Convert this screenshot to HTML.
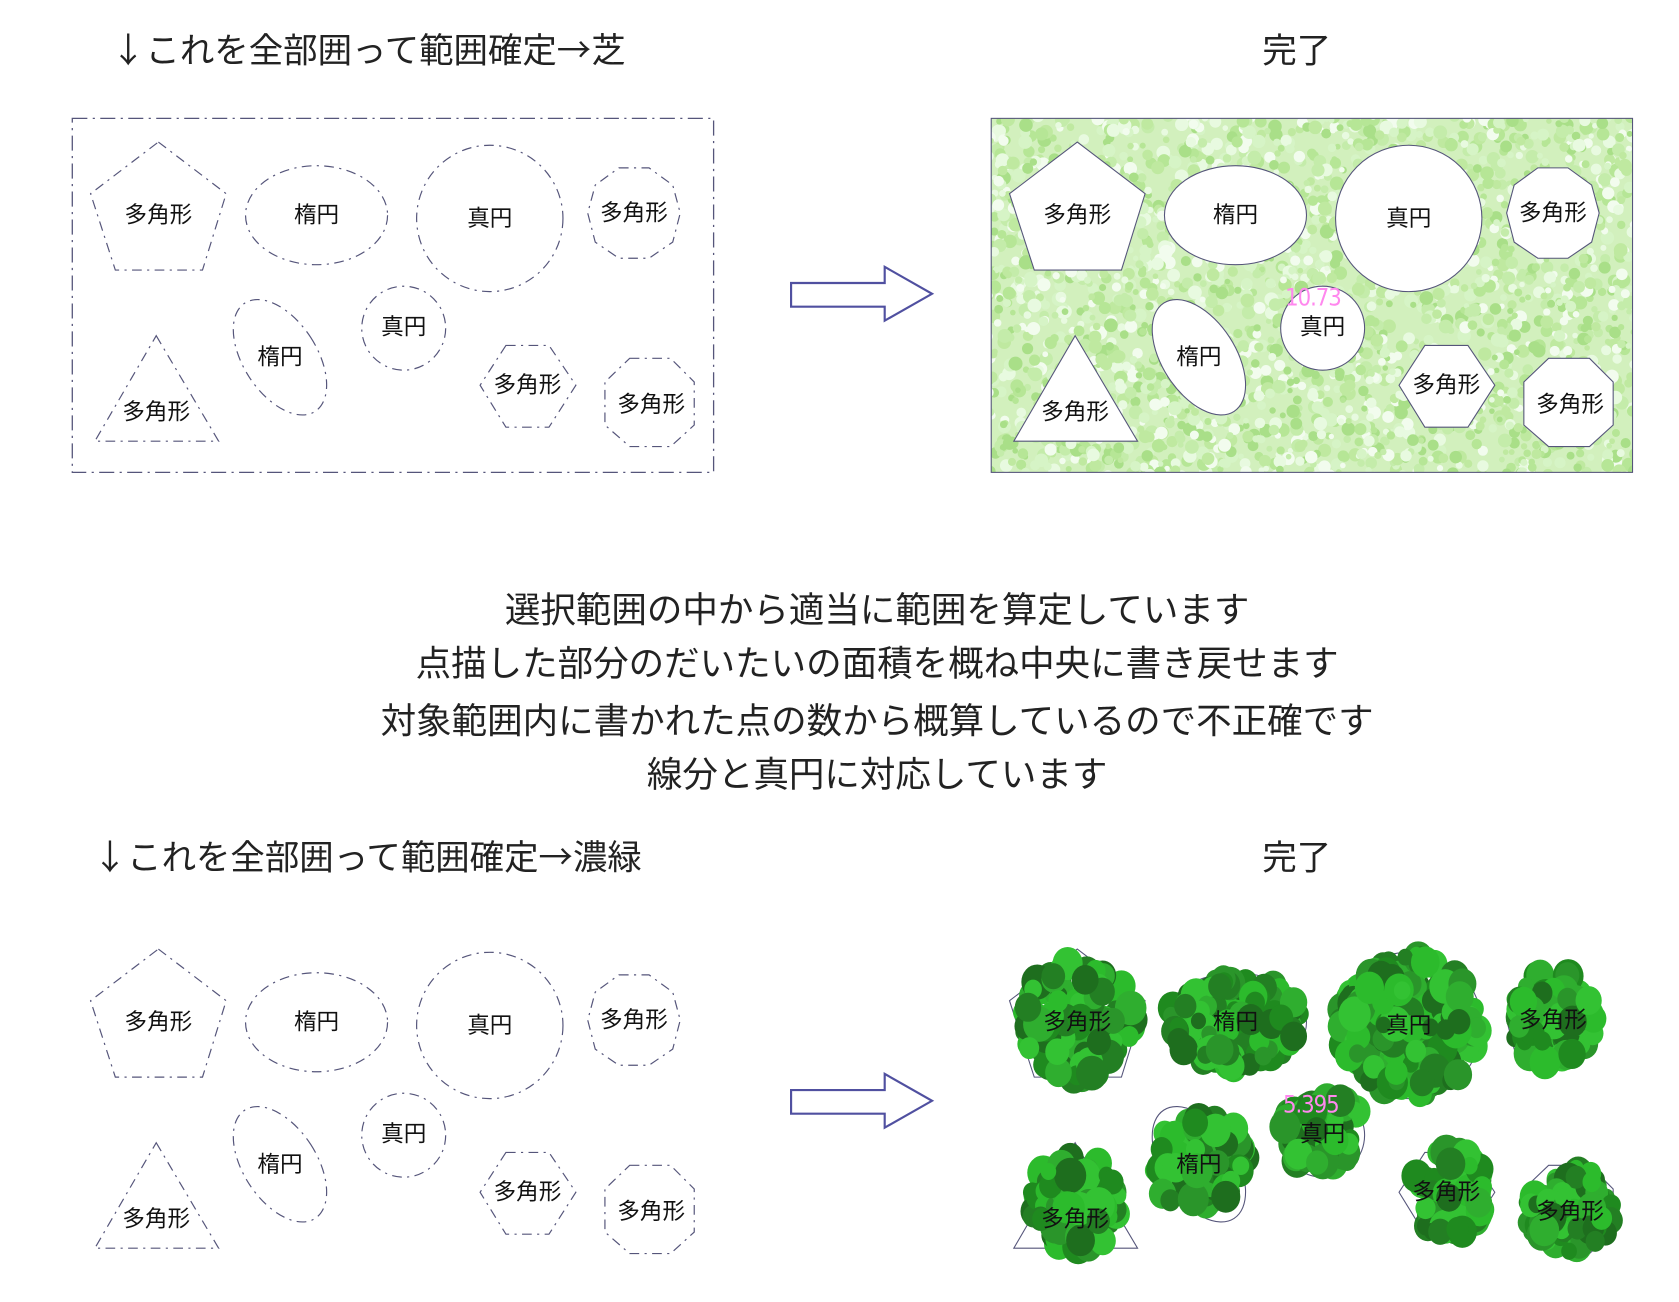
<!DOCTYPE html>
<html><head><meta charset="utf-8"><style>
html,body{margin:0;padding:0;background:#fff;}
svg{display:block;}
text{font-family:"Liberation Sans","Noto Sans CJK JP",sans-serif;}
.lbl{font-size:21px;fill:#111;text-anchor:middle;dominant-baseline:central;}
.ttl{font-size:32px;fill:#222;}
.ar{font-family:"Noto Sans CJK JP",sans-serif;}
.mid{font-size:33px;fill:#222;text-anchor:middle;}
</style></head><body>
<svg id="s" width="1679" height="1302" viewBox="0 0 1560 1210" xmlns="http://www.w3.org/2000/svg">
<defs>
<clipPath id="lawnclip"><rect x="921" y="110" width="596" height="329"/></clipPath>
</defs>
<text class="ttl" x="103" y="58"><tspan class="ar">↓</tspan>これを全部囲って範囲確定<tspan class="ar">→</tspan>芝</text>
<text class="ttl" x="1173" y="58">完了</text>
<text class="ttl" x="86" y="808"><tspan class="ar">↓</tspan>これを全部囲って範囲確定<tspan class="ar">→</tspan>濃緑</text>
<text class="ttl" x="1173" y="808">完了</text>

<text class="mid" x="815" y="578">選択範囲の中から適当に範囲を算定しています</text>
<text class="mid" x="815" y="628">点描した部分のだいたいの面積を概ね中央に書き戻せます</text>
<text class="mid" x="815" y="681">対象範囲内に書かれた点の数から概算しているので不正確です</text>
<text class="mid" x="815" y="731">線分と真円に対応しています</text>

<path d="M735,263 H822 V248 L866,273 L822,298 V285 H735 Z" fill="#fff" stroke="#5050a0" stroke-width="2"/>
<path d="M735,1013 H822 V998 L866,1023 L822,1048 V1035 H735 Z" fill="#fff" stroke="#5050a0" stroke-width="2"/>

<rect x="67" y="110" width="596" height="329" fill="none" stroke="#55557a" stroke-width="1.2" stroke-dasharray="14,5,2,5"/>

<rect x="921" y="110" width="596" height="329" fill="#d2f0bd"/>
<g id="lawn" clip-path="url(#lawnclip)"></g>
<rect x="921" y="110" width="596" height="329" fill="none" stroke="#55557a" stroke-width="1"/>

<g fill="none" stroke="#55557a" stroke-width="1.1" stroke-dasharray="9,5,2,5">
<polygon points="147,132 210,180 188,251 107,251 84,180"/>
<ellipse cx="294" cy="200" rx="66" ry="46"/>
<ellipse cx="455" cy="203" rx="68" ry="68"/>
<polygon points="575,156 603,156 625,172 632,198 625,225 603,240 575,240 553,225 546,198 553,172"/>
<ellipse cx="260" cy="332" rx="34" ry="60" transform="rotate(-33 260 332)"/>
<ellipse cx="375" cy="305" rx="39" ry="39"/>
<polygon points="145,312 203,410 88,410"/>
<polygon points="470,321 510,321 535,358 510,397 470,397 446,358"/>
<polygon points="585,333 623,333 645,355 645,395 623,415 585,415 562,395 562,355"/>
</g>
<g>
<text class="lbl" x="147" y="200">多角形</text><text class="lbl" x="294" y="200">楕円</text><text class="lbl" x="455" y="203">真円</text><text class="lbl" x="589" y="198">多角形</text><text class="lbl" x="260" y="332">楕円</text><text class="lbl" x="375" y="304">真円</text><text class="lbl" x="145" y="383">多角形</text><text class="lbl" x="490" y="358">多角形</text><text class="lbl" x="605" y="376">多角形</text>
</g>

<g transform="translate(854,0)" fill="#fff" stroke="#55557a" stroke-width="1">
<polygon points="147,132 210,180 188,251 107,251 84,180"/>
<ellipse cx="294" cy="200" rx="66" ry="46"/>
<ellipse cx="455" cy="203" rx="68" ry="68"/>
<polygon points="575,156 603,156 625,172 632,198 625,225 603,240 575,240 553,225 546,198 553,172"/>
<ellipse cx="260" cy="332" rx="34" ry="60" transform="rotate(-33 260 332)"/>
<ellipse cx="375" cy="305" rx="39" ry="39"/>
<polygon points="145,312 203,410 88,410"/>
<polygon points="470,321 510,321 535,358 510,397 470,397 446,358"/>
<polygon points="585,333 623,333 645,355 645,395 623,415 585,415 562,395 562,355"/>
</g>
<g transform="translate(854,0)">
<text class="lbl" x="147" y="200">多角形</text><text class="lbl" x="294" y="200">楕円</text><text class="lbl" x="455" y="203">真円</text><text class="lbl" x="589" y="198">多角形</text><text class="lbl" x="260" y="332">楕円</text><text class="lbl" x="375" y="304">真円</text><text class="lbl" x="145" y="383">多角形</text><text class="lbl" x="490" y="358">多角形</text><text class="lbl" x="605" y="376">多角形</text>
</g>
<text x="1220" y="284" font-size="22" fill="#ff88ee" text-anchor="middle" style="font-family:'DejaVu Sans Condensed','Liberation Sans Narrow',sans-serif;letter-spacing:-1px">10.73</text>

<g transform="translate(0,750)" fill="none" stroke="#55557a" stroke-width="1.1" stroke-dasharray="9,5,2,5">
<polygon points="147,132 210,180 188,251 107,251 84,180"/>
<ellipse cx="294" cy="200" rx="66" ry="46"/>
<ellipse cx="455" cy="203" rx="68" ry="68"/>
<polygon points="575,156 603,156 625,172 632,198 625,225 603,240 575,240 553,225 546,198 553,172"/>
<ellipse cx="260" cy="332" rx="34" ry="60" transform="rotate(-33 260 332)"/>
<ellipse cx="375" cy="305" rx="39" ry="39"/>
<polygon points="145,312 203,410 88,410"/>
<polygon points="470,321 510,321 535,358 510,397 470,397 446,358"/>
<polygon points="585,333 623,333 645,355 645,395 623,415 585,415 562,395 562,355"/>
</g>
<g transform="translate(0,750)">
<text class="lbl" x="147" y="200">多角形</text><text class="lbl" x="294" y="200">楕円</text><text class="lbl" x="455" y="203">真円</text><text class="lbl" x="589" y="198">多角形</text><text class="lbl" x="260" y="332">楕円</text><text class="lbl" x="375" y="304">真円</text><text class="lbl" x="145" y="383">多角形</text><text class="lbl" x="490" y="358">多角形</text><text class="lbl" x="605" y="376">多角形</text>
</g>

<g transform="translate(854,750)" fill="none" stroke="#55557a" stroke-width="1">
<polygon points="147,132 210,180 188,251 107,251 84,180"/>
<ellipse cx="294" cy="200" rx="66" ry="46"/>
<ellipse cx="455" cy="203" rx="68" ry="68"/>
<polygon points="575,156 603,156 625,172 632,198 625,225 603,240 575,240 553,225 546,198 553,172"/>
<ellipse cx="260" cy="332" rx="34" ry="60" transform="rotate(-33 260 332)"/>
<ellipse cx="375" cy="305" rx="39" ry="39"/>
<polygon points="145,312 203,410 88,410"/>
<polygon points="470,321 510,321 535,358 510,397 470,397 446,358"/>
<polygon points="585,333 623,333 645,355 645,395 623,415 585,415 562,395 562,355"/>
</g>
<g id="blobs"></g>
<g transform="translate(854,750)">
<text class="lbl" x="147" y="200">多角形</text><text class="lbl" x="294" y="200">楕円</text><text class="lbl" x="455" y="203">真円</text><text class="lbl" x="589" y="198">多角形</text><text class="lbl" x="260" y="332">楕円</text><text class="lbl" x="375" y="304">真円</text><text class="lbl" x="145" y="383">多角形</text><text class="lbl" x="490" y="358">多角形</text><text class="lbl" x="605" y="376">多角形</text>
</g>
<text x="1218" y="1034" font-size="22" fill="#ff88ee" text-anchor="middle" style="font-family:'DejaVu Sans Condensed','Liberation Sans Narrow',sans-serif;letter-spacing:-1px">5.395</text>
</svg>
<script>
(function(){
var seed=12345;function r(){seed=(seed*1103515245+12345)&0x7fffffff;return seed/0x7fffffff;}
var NS="http://www.w3.org/2000/svg";
var lawn=document.getElementById("lawn");
var lc=["#b6e696","#c4ecaa","#d6f4c6","#a9df88","#e8fae0","#bfe9a0","#f2fcee"];
for(var i=0;i<2600;i++){var c=document.createElementNS(NS,"circle");
c.setAttribute("cx",(918+r()*602).toFixed(1));c.setAttribute("cy",(107+r()*336).toFixed(1));
c.setAttribute("r",(2.5+r()*4).toFixed(1));c.setAttribute("fill",lc[Math.floor(r()*lc.length)]);lawn.appendChild(c);}
var blobs=document.getElementById("blobs");
var gc=["#1e6e1e","#237f23","#2a952a","#2fae2f","#2cbb2c","#1f8a1f","#33c233"];
var sh=[[1001,948,52,54,0],[1148,950,62,44,0],[1309,953,64,66,0],[1443,946,40,44,0],[1113,1080,46,42,-30],[1228,1052,38,36,0],[1000,1118,42,44,0],[1345,1108,36,40,0],[1458,1125,40,42,0]];
sh.forEach(function(s){var n=Math.round(s[2]*s[3]/20);
for(var i=0;i<n;i++){var a=r()*Math.PI*2,d=Math.sqrt(r());var x=Math.cos(a)*d*s[2],y=Math.sin(a)*d*s[3];
var t=s[4]*Math.PI/180;var X=s[0]+x*Math.cos(t)-y*Math.sin(t),Y=s[1]+x*Math.sin(t)+y*Math.cos(t);
var c=document.createElementNS(NS,"ellipse");var rr=7+r()*8;
c.setAttribute("cx",X.toFixed(1));c.setAttribute("cy",Y.toFixed(1));c.setAttribute("rx",rr.toFixed(1));c.setAttribute("ry",(rr*1.1).toFixed(1));
c.setAttribute("fill",gc[Math.floor(r()*gc.length)]);blobs.appendChild(c);}});
})();
</script>
</body></html>
